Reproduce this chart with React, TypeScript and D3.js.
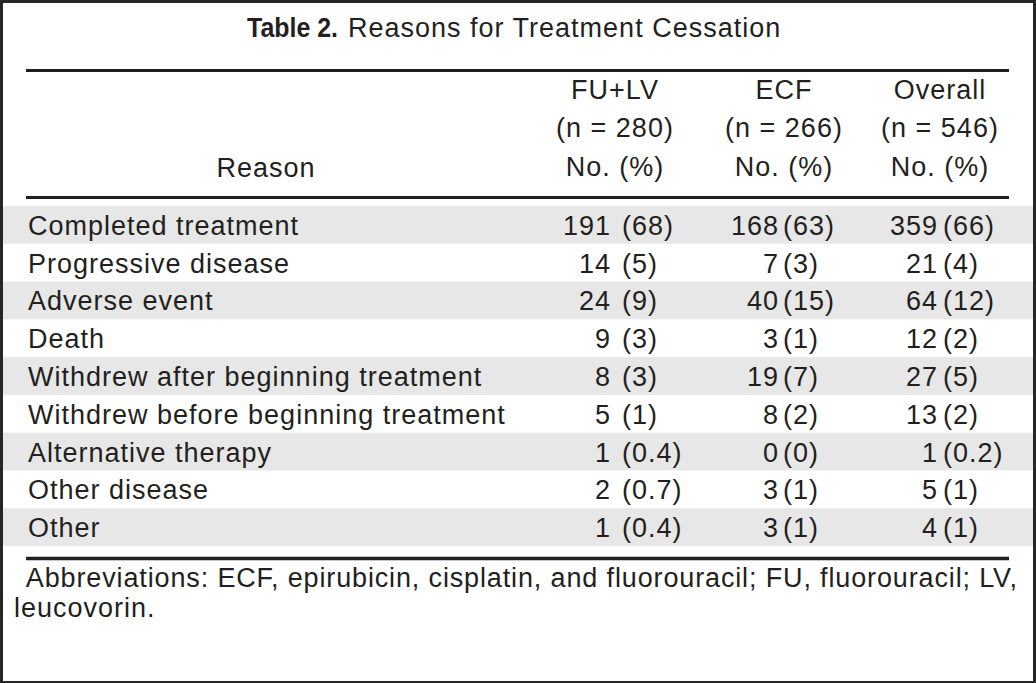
import * as d3 from "d3";
import React from "react";

const WIDTH = 1036;
const HEIGHT = 683;

const reasons = [
  "Completed treatment",
  "Progressive disease",
  "Adverse event",
  "Death",
  "Withdrew after beginning treatment",
  "Withdrew before beginning treatment",
  "Alternative therapy",
  "Other disease",
  "Other",
];

const groups = ["FU+LV", "ECF", "Overall"];
const groupN = [280, 266, 546];

const fuLvCounts = [191, 14, 24, 9, 8, 5, 1, 2, 1];
const fuLvPct = ["68", "5", "9", "3", "3", "1", "0.4", "0.7", "0.4"];
const ecfCounts = [168, 7, 40, 3, 19, 8, 0, 3, 3];
const ecfPct = ["63", "3", "15", "1", "7", "2", "0", "1", "1"];
const overallCounts = [359, 21, 64, 12, 27, 13, 1, 5, 4];
const overallPct = ["66", "4", "12", "2", "5", "2", "0.2", "1", "1"];

const footnote1 = " Abbreviations: ECF, epirubicin, cisplatin, and fluorouracil; FU, fluorouracil; LV,";
const footnote2 = "leucovorin.";

const FONT = "'Liberation Sans', Arial, Helvetica, sans-serif";
const INK = "#231f20";
const STRIPE = "#e6e7e6";

export default function App() {
  const columns = [
    { name: groups[0], n: groupN[0], counts: fuLvCounts, pct: fuLvPct },
    { name: groups[1], n: groupN[1], counts: ecfCounts, pct: ecfPct },
    { name: groups[2], n: groupN[2], counts: overallCounts, pct: overallPct },
  ];

  // rows of the body
  const yScale = d3.scaleBand<string>().domain(reasons).range([206, 546]);
  const bw = yScale.bandwidth();

  // column anchors: header centre, number right edge, parenthesis left edge
  const colCenter = d3.scaleOrdinal<string, number>().domain(groups).range([615, 784, 940]);
  const numEnd = d3.scaleOrdinal<string, number>().domain(groups).range([611, 779, 938]);
  const pctStart = d3.scaleOrdinal<string, number>().domain(groups).range([622, 783, 943]);

  const textStyle = { fontFamily: FONT, fontSize: 27, letterSpacing: 1, fill: INK };

  return (
    <div style={{ position: "absolute", left: 0, top: 0 }}>
      <svg width={WIDTH} height={HEIGHT}>
        <rect x={0} y={0} width={WIDTH} height={HEIGHT} fill="#262626" />
        <rect x={3} y={3} width={1030} height={678} fill="#fff" />

        {/* title */}
        <text
          x={247}
          y={37}
          fontFamily="'Liberation Sans Narrow', 'Arial Narrow', Arial, sans-serif"
          fontWeight="bold"
          fontSize={28}
          fill={INK}
          textLength={91}
          lengthAdjust="spacingAndGlyphs"
        >
          Table 2.
        </text>
        <text x={348} y={37} {...textStyle}>
          Reasons for Treatment Cessation
        </text>

        <line x1={26} x2={1009} y1={70.5} y2={70.5} stroke={INK} strokeWidth={3} />

        {/* header */}
        <text x={266} y={177} textAnchor="middle" {...textStyle}>
          Reason
        </text>
        {columns.map((c) => (
          <g key={c.name}>
            <text x={colCenter(c.name)} y={99} textAnchor="middle" {...textStyle}>
              {c.name}
            </text>
            <text x={colCenter(c.name)} y={137} textAnchor="middle" {...textStyle}>
              {`(n = ${c.n})`}
            </text>
            <text x={colCenter(c.name)} y={176} textAnchor="middle" {...textStyle}>
              No. (%)
            </text>
          </g>
        ))}

        <line x1={26} x2={1009} y1={197.5} y2={197.5} stroke={INK} strokeWidth={3} />

        {/* body */}
        {reasons.map((r, i) => {
          const y = yScale(r) ?? 0;
          const base = y + bw / 2 + 10;
          return (
            <g key={r}>
              {i % 2 === 0 && <rect x={3} y={y} width={1030} height={bw} fill={STRIPE} />}
              <text x={28} y={base} {...textStyle}>
                {r}
              </text>
              {columns.map((c) => (
                <g key={c.name}>
                  <text x={numEnd(c.name)} y={base} textAnchor="end" {...textStyle}>
                    {c.counts[i]}
                  </text>
                  <text x={pctStart(c.name)} y={base} {...textStyle}>
                    {`(${c.pct[i]})`}
                  </text>
                </g>
              ))}
            </g>
          );
        })}

        <line x1={26} x2={1009} y1={558.5} y2={558.5} stroke={INK} strokeWidth={3.5} />

        {/* footnote */}
        <text
          x={19}
          y={587}
          {...textStyle}
          letterSpacing={0}
          textLength={998}
          lengthAdjust="spacing"
          style={{ whiteSpace: "pre" }}
        >
          {footnote1}
        </text>
        <text x={14} y={617} {...textStyle}>
          {footnote2}
        </text>
      </svg>
    </div>
  );
}
